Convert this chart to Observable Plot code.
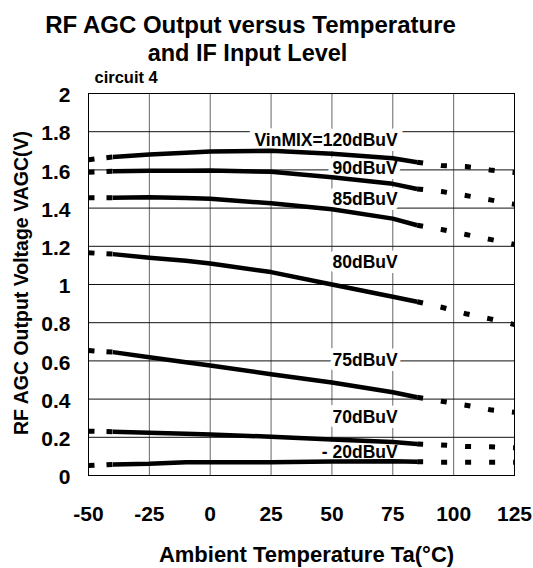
<!DOCTYPE html>
<html><head><meta charset="utf-8">
<script src="https://cdn.jsdelivr.net/npm/d3@7"></script>
<script src="https://cdn.jsdelivr.net/npm/@observablehq/plot@0.6"></script>
<style>body{margin:0;background:#fff;}</style>
</head><body><div id="chart"></div>
<script>
// Temperatures (°C)
const tempsSolid = [-40, -25, -10, 0, 25, 50, 75, 85];
const tempsLeft = [-50, -40];
const tempsRight = [85, 95, 105, 115, 125];

// Series (IF input level)
const seriesNames = ["120", "90", "85", "80", "75", "70", "20"];

// VAGC (V) — measured (solid) part
const solid120 = [1.668, 1.680, 1.690, 1.696, 1.700, 1.684, 1.661, 1.640];
const solid90  = [1.593, 1.595, 1.596, 1.597, 1.590, 1.562, 1.527, 1.500];
const solid85  = [1.454, 1.457, 1.453, 1.449, 1.425, 1.394, 1.345, 1.310];
const solid80  = [1.159, 1.140, 1.124, 1.110, 1.065, 1.000, 0.936, 0.910];
const solid75  = [0.646, 0.619, 0.593, 0.576, 0.530, 0.487, 0.436, 0.410];
const solid70  = [0.229, 0.224, 0.219, 0.215, 0.203, 0.188, 0.175, 0.165];
const solid20  = [0.058, 0.061, 0.070, 0.070, 0.070, 0.073, 0.075, 0.072];

// Dotted extrapolated parts
const left120 = [1.653, 1.668];
const left90  = [1.588, 1.593];
const left85  = [1.454, 1.454];
const left80  = [1.166, 1.159];
const left75  = [0.654, 0.646];
const left70  = [0.232, 0.229];
const left20  = [0.052, 0.058];

const right120 = [1.640, 1.623, 1.618, 1.600, 1.586];
const right90  = [1.500, 1.487, 1.466, 1.443, 1.420];
const right85  = [1.310, 1.288, 1.262, 1.236, 1.210];
const right80  = [0.910, 0.881, 0.847, 0.820, 0.790];
const right75  = [0.410, 0.389, 0.368, 0.344, 0.331];
const right70  = [0.165, 0.160, 0.152, 0.150, 0.145];
const right20  = [0.072, 0.070, 0.070, 0.070, 0.070];

// Curve labels
const labelTexts = ["VinMIX=120dBuV", "90dBuV", "85dBuV", "80dBuV", "75dBuV", "70dBuV", "- 20dBuV"];
const labelValues = [1.754, 1.606, 1.443, 1.114, 0.602, 0.302, 0.119];
const labelTemp = 77;

// Axis ticks
const xTicks = [-50, -25, 0, 25, 50, 75, 100, 125];
const yTicks = [0, 0.2, 0.4, 0.6, 0.8, 1, 1.2, 1.4, 1.6, 1.8, 2];
const yGrid = [0.2, 0.4, 0.6, 0.8, 1, 1.2, 1.4, 1.6, 1.8];
const xGrid = [-25, 0, 25, 50, 75, 100];

const solids = [solid120, solid90, solid85, solid80, solid75, solid70, solid20];
const lefts = [left120, left90, left85, left80, left75, left70, left20];
const rights = [right120, right90, right85, right80, right75, right70, right20];

const build = (temps, arrs) => seriesNames.flatMap((s, i) => temps.map((t, j) => ({s, t, v: arrs[i][j]})));
const solidData = build(tempsSolid, solids);
const leftData = build(tempsLeft, lefts);
const rightData = build(tempsRight, rights);
const labels = labelTexts.map((txt, i) => ({txt, t: labelTemp, v: labelValues[i]}));

const FONT = "'Liberation Sans', Arial, Helvetica, sans-serif";

const chart = Plot.plot({
  width: 533,
  height: 568,
  marginLeft: 88,
  marginRight: 19,
  marginTop: 93,
  marginBottom: 93,
  style: {fontFamily: FONT, fontWeight: "bold", background: "#fff", color: "#000"},
  x: {domain: [-50, 125], axis: null},
  y: {domain: [0, 2], axis: null},
  marks: [
    Plot.ruleX(xGrid, {stroke: "#666", strokeWidth: 1}),
    Plot.ruleY(yGrid, {stroke: "#111", strokeWidth: 1}),
    Plot.frame({stroke: "#000", strokeWidth: 1}),
    Plot.text(labels, {x: "t", y: "v", text: "txt", textAnchor: "end", lineAnchor: "middle",
      fontSize: 17.5, fontWeight: "bold", fontFamily: FONT, fill: "#000", stroke: "#fff", strokeWidth: 10}),
    Plot.line(solidData, {x: "t", y: "v", z: "s", stroke: "#000", strokeWidth: 4.5, strokeLinecap: "butt", clip: true}),
    Plot.line(leftData, {x: "t", y: "v", z: "s", stroke: "#000", strokeWidth: 5, strokeLinecap: "butt", strokeDasharray: "6,12", clip: true}),
    Plot.line(rightData, {x: "t", y: "v", z: "s", stroke: "#000", strokeWidth: 5, strokeLinecap: "butt", strokeDasharray: "6,18", clip: true}),
    // tick labels
    Plot.text(xTicks, {x: d => d, frameAnchor: "bottom", dy: 39, text: d => String(d), lineAnchor: "middle",
      fontSize: 21, fontWeight: "bold", fontFamily: FONT, fill: "#000"}),
    Plot.text(yTicks, {y: d => d, frameAnchor: "left", dx: -18, dy: 2, text: d => String(d), textAnchor: "end", lineAnchor: "middle",
      fontSize: 21, fontWeight: "bold", fontFamily: FONT, fill: "#000"}),
    // titles
    Plot.text(["RF AGC Output versus Temperature"], {frameAnchor: "top", dx: -51, dy: -68, lineAnchor: "middle",
      fontSize: 24, fontWeight: "bold", fontFamily: FONT, fill: "#000"}),
    Plot.text(["and IF Input Level"], {frameAnchor: "top", dx: -54, dy: -40, lineAnchor: "middle",
      fontSize: 23.5, fontWeight: "bold", fontFamily: FONT, fill: "#000"}),
    Plot.text(["circuit 4"], {frameAnchor: "top-left", dx: 6, dy: -16, textAnchor: "start", lineAnchor: "middle",
      fontSize: 16.5, fontWeight: "bold", fontFamily: FONT, fill: "#000"}),
    Plot.text(["Ambient Temperature Ta(°C)"], {frameAnchor: "bottom", dx: 5, dy: 79, lineAnchor: "middle",
      fontSize: 22, fontWeight: "bold", fontFamily: FONT, fill: "#000"}),
    Plot.text(["RF AGC Output Voltage VAGC(V)"], {frameAnchor: "left", dx: -67, dy: -1.5, rotate: -90, textAnchor: "middle", lineAnchor: "middle",
      fontSize: 19.5, fontWeight: "bold", fontFamily: FONT, fill: "#000"})
  ]
});
document.getElementById("chart").appendChild(chart);
</script>
</body></html>
